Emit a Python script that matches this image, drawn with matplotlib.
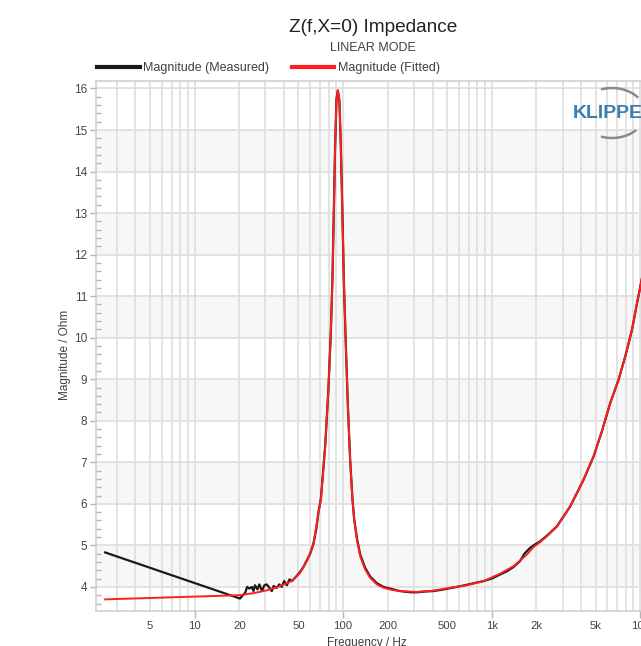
import matplotlib
matplotlib.use("Agg")
import matplotlib.pyplot as plt
from matplotlib.ticker import FixedLocator, FixedFormatter
from matplotlib.patches import Arc
from matplotlib.lines import Line2D

plt.rcParams['font.family'] = ['Liberation Sans', 'DejaVu Sans']

# ---- data -------------------------------------------------------------
f_meas = [2.5, 20.2, 21.9, 22.6, 23.4, 24.3, 24.9, 25.5, 26.5, 27.3, 28.4,
          29.5, 30.6, 31.9, 33.1, 34.0, 35.8, 37.2, 38.6, 40.1, 41.8, 43.5,
          45.2, 48, 51.3, 54, 57, 60, 63.1, 66, 68.2, 70.8, 75.7, 79.6, 82.6,
          84.7, 86.5, 88.3, 90.2, 92.1, 94.4, 96.5, 98.9, 101.1, 104.3, 107.6,
          111.4, 115.5, 118.6, 123.7, 130.2, 140.6, 152, 168.6, 186.7, 218,
          240, 268.5, 290, 313.4, 360, 405.5, 460, 525.4, 600, 680.5, 780,
          881.7, 1000, 1141, 1270, 1402, 1550, 1660, 1800, 1950, 2122, 2400,
          2748, 3379, 4150, 4848, 5521, 6281, 7143, 7925, 8794, 9507, 10110,
          10600]
z_meas = [4.83, 3.72, 3.86, 4.00, 3.96, 4.00, 3.90, 4.04, 3.94, 4.06, 3.90,
          4.04, 4.06, 3.98, 3.90, 4.02, 3.98, 4.06, 4.00, 4.14, 4.04, 4.18,
          4.14, 4.24, 4.36, 4.48, 4.64, 4.80, 5.04, 5.40, 5.80, 6.12, 7.40,
          8.77, 10.13, 11.41, 13.01, 14.62, 15.74, 15.95, 15.70, 14.58, 12.97,
          11.37, 9.79, 8.36, 7.08, 6.12, 5.64, 5.18, 4.78, 4.46, 4.25, 4.09,
          4.00, 3.94, 3.90, 3.88, 3.87, 3.87, 3.89, 3.90, 3.93, 3.97, 4.01,
          4.05, 4.10, 4.14, 4.20, 4.30, 4.38, 4.48, 4.62, 4.80, 4.93, 5.02,
          5.10, 5.26, 5.46, 5.94, 6.58, 7.14, 7.75, 8.43, 8.99, 9.55, 10.19,
          10.83, 11.31, 11.70]

f_fit = [2.5, 20, 25, 30, 35, 40, 45, 51.3, 57, 63.1, 68.2, 70.8, 75.7, 79.6,
         82.6, 84.7, 86.5, 88.3, 90.2, 92.1, 94.4, 96.5, 98.9, 101.1, 104.3,
         107.6, 111.4, 115.5, 118.6, 123.7, 130.2, 140.6, 152, 168.6, 186.7,
         218, 268.5, 313.4, 405.5, 525.4, 680.5, 881.7, 1141, 1402, 1726,
         1912, 2122, 2400, 2748, 3379, 4150, 4848, 5521, 6281, 7143, 7925,
         8794, 9507, 10110, 10600]
z_fit = [3.70, 3.80, 3.85, 3.91, 3.98, 4.06, 4.14, 4.34, 4.62, 5.02, 5.79,
         6.10, 7.38, 8.75, 10.11, 11.39, 12.99, 14.60, 15.72, 15.96, 15.72,
         14.60, 12.99, 11.39, 9.79, 8.35, 7.06, 6.10, 5.62, 5.14, 4.74, 4.42,
         4.22, 4.06, 3.98, 3.92, 3.89, 3.88, 3.91, 3.98, 4.04, 4.14, 4.32,
         4.50, 4.78, 4.96, 5.08, 5.25, 5.45, 5.94, 6.58, 7.14, 7.75, 8.43,
         8.99, 9.55, 10.19, 10.83, 11.31, 11.70]

x_label_ticks = [5, 10, 20, 50, 100, 200, 500, 1000, 2000, 5000, 10000]
x_label_text = ['5', '10', '20', '50', '100', '200', '500', '1k', '2k', '5k', '10k']
y_major = list(range(4, 17))
shaded_bands = [(4, 5), (6, 7), (8, 9), (10, 11), (12, 13), (14, 15)]

# ---- figure -----------------------------------------------------------
W, H = 641, 646
fig = plt.figure(figsize=(W / 100, H / 100), dpi=100)
fig.patch.set_facecolor('white')

def px(x0, y0, x1, y1):
    return [x0 / W, 1 - y1 / H, (x1 - x0) / W, (y1 - y0) / H]

AX_L, AX_T, AX_R, AX_B = 96, 81, 685, 611
ax = fig.add_axes(px(AX_L, AX_T, AX_R, AX_B))
ax.set_xscale('log')
ax.set_xlim(2.17, 20000)
ax.set_ylim(3.42, 16.18)

for lo, hi in shaded_bands:
    ax.axhspan(lo, hi, color='#f7f7f7', zorder=0, lw=0)

grid_color = '#e0e0e0'
decade_marks = [10, 100, 1000, 10000]
all_grid = [m * d for d in [1, 10, 100, 1000, 10000] for m in range(1, 10)
            if 2.17 < m * d < 20000]
minor_locs = [v for v in all_grid if v not in decade_marks]
lab = dict(zip(x_label_ticks, x_label_text))
ax.xaxis.set_major_locator(FixedLocator(decade_marks))
ax.xaxis.set_major_formatter(FixedFormatter([lab[v] for v in decade_marks]))
ax.xaxis.set_minor_locator(FixedLocator(minor_locs))
ax.xaxis.set_minor_formatter(FixedFormatter([lab.get(v, '') for v in minor_locs]))
ax.grid(True, which='both', axis='x', color=grid_color, lw=1.3, zorder=1)

ax.yaxis.set_major_locator(FixedLocator(y_major))
ax.yaxis.set_minor_locator(FixedLocator([v / 5 for v in range(18, 81) if v % 5 != 0]))
ax.grid(True, which='major', axis='y', color=grid_color, lw=1.3, zorder=1)
ax.set_axisbelow(True)

tick_col = '#b5b5b5'
label_col = '#454545'
ax.tick_params(axis='x', which='major', direction='out', length=5, width=1,
               color=tick_col, labelsize=8.2, labelcolor=label_col, pad=2.3)
ax.tick_params(axis='x', which='minor', length=0, labelsize=8.2,
               labelcolor=label_col, pad=7.3)
ax.tick_params(axis='y', which='major', direction='out', length=4.3, width=1,
               color=tick_col, labelsize=8.5, labelcolor=label_col, pad=2.2)
ax.tick_params(axis='y', which='minor', direction='in', length=3.6, width=1,
               color=tick_col)

for s in ax.spines.values():
    s.set_color('#cfcfcf')
    s.set_linewidth(1.2)

ax.plot(f_meas, z_meas, color='#1a1a1a', lw=1.6, zorder=3)
ax.plot(f_fit, z_fit, color='#ff1f1f', lw=1.4, zorder=4)

ax.set_xlabel('Frequency / Hz', fontsize=8.5, color='#404040')
ax.set_ylabel('Magnitude / Ohm', fontsize=8.5, color='#404040')
ax.xaxis.set_label_coords((367 - AX_L) / (AX_R - AX_L), (AX_B - 637) / (AX_B - AX_T))
ax.yaxis.set_label_coords((71 - AX_L) / (AX_R - AX_L), (AX_B - 355) / (AX_B - AX_T))

# ---- titles -----------------------------------------------------------
fig.text(373 / W, 1 - 27 / H, 'Z(f,X=0) Impedance', ha='center', va='center',
         fontsize=13.7, color='#222222')
fig.text(373 / W, 1 - 48 / H, 'LINEAR MODE', ha='center', va='center',
         fontsize=9, color='#404040')

handles = [Line2D([], [], color='#1a1a1a', lw=3),
           Line2D([], [], color='#ff1f1f', lw=3)]
fig.legend(handles, ['Magnitude (Measured)', 'Magnitude (Fitted)'],
           loc='center left', bbox_to_anchor=(97 / W, 1 - 68 / H), ncol=2,
           frameon=False, fontsize=9, handlelength=3.4, handletextpad=0.3,
           columnspacing=1.8, borderpad=0, borderaxespad=0,
           labelcolor='#404040')

# ---- logo -------------------------------------------------------------
logo_ax = fig.add_axes([0, 0, 1, 1], facecolor='none')
logo_ax.set_xlim(0, W)
logo_ax.set_ylim(H, 0)
logo_ax.axis('off')
logo_ax.text(573, 113, 'KLIPPEL', fontsize=14, fontweight='bold',
             color='#3c7fae', ha='left', va='center')
logo_ax.add_patch(Arc((612, 113), 66, 50, theta1=245, theta2=330,
                      color='#8a8a8a', lw=1.8))
logo_ax.add_patch(Arc((612, 113), 66, 50, theta1=35, theta2=115,
                      color='#8a8a8a', lw=1.8))

fig.savefig('out.png', dpi=100)
